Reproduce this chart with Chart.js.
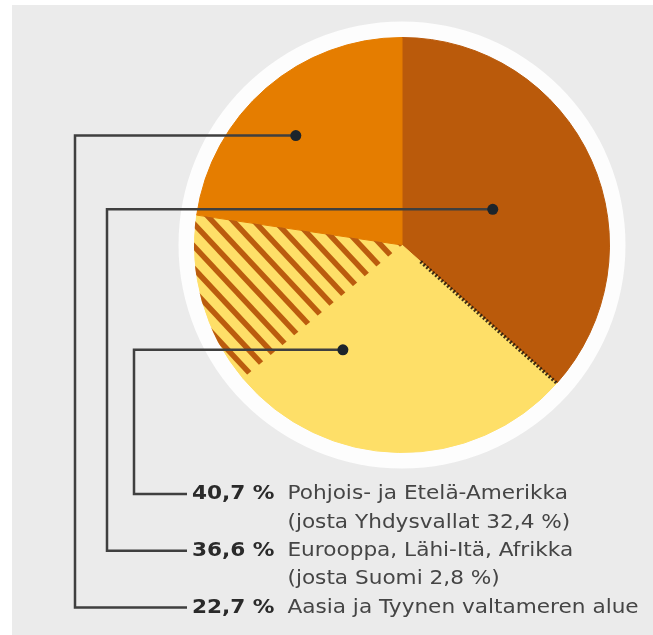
<!DOCTYPE html>
<html lang="fi">
<head>
<meta charset="utf-8">
<title>Liikevaihto alueittain</title>
<script src="https://cdn.jsdelivr.net/npm/chart.js@4/dist/chart.umd.min.js"></script>
<style>
  html, body { margin: 0; padding: 0; background: #fff; }
  #tausta { position: absolute; left: 12px; top: 5px; width: 641px; height: 630px; background: #ebebeb; }
  #kaavio { position: absolute; left: 0; top: 0; }
</style>
</head>
<body>
<div id="tausta"></div>
<canvas id="kaavio" width="653" height="635"></canvas>
<script>
// Alueet ja osuudet (%)
const alueet = ['Pohjois- ja Etelä-Amerikka', 'Eurooppa, Lähi-Itä, Afrikka', 'Aasia ja Tyynen valtameren alue'];
const osuudet = [40.7, 36.6, 22.7];
const lisatiedot = ['(josta Yhdysvallat 32,4 %)', '(josta Suomi 2,8 %)', ''];

// Piirakan sektorit myötäpäivään klo 12:sta alkaen
const sektoriNimet = ['Eurooppa, Lähi-Itä, Afrikka', 'Pohjois- ja Etelä-Amerikka', 'Pohjois- ja Etelä-Amerikka (viivoitettu)', 'Aasia ja Tyynen valtameren alue'];
const sektoriArvot = [36.6, 27.3, 13.4, 22.7];
const sektoriAlue = [1, 0, 0, 2];   // mihin alueeseen sektori kuuluu
const viivoitettu = 2;              // viivoitettu sektori
const suomiRaja = 0;                // Suomi merkitty tämän sektorin reunaan

// Ulkoasu
const sektoriVarit = ['#ba5a0b', '#fedf68', '#fedf68', '#e57d00'];
const viivaVari = '#bb5c0e';
const osoittimet = [
    { kulma: 0.53, sade: 0.58, taiteX: 134 },  // Amerikka
    { kulma: 0.52, sade: 0.47, taiteX: 107 },  // Eurooppa
    { kulma: 0.46, sade: 0.735, taiteX: 75 }   // Aasia
];
const rivit = { x: 192, y0: 494, vali: 28.4, loppuX: 187, leveys: 446, rako: 5 };

const rengas = {
    id: 'rengas',
    beforeDatasetsDraw(chart) {
        const arc = chart.getDatasetMeta(0).data[0];
        const ctx = chart.ctx;
        ctx.save();
        ctx.fillStyle = '#fdfdfd';
        ctx.beginPath();
        ctx.arc(arc.x, arc.y, arc.outerRadius + 16, 0, Math.PI * 2);
        ctx.fill();
        ctx.restore();
    }
};

const viivoitus = {
    id: 'viivoitus',
    afterDatasetsDraw(chart) {
        const ctx = chart.ctx;
        const arcs = chart.getDatasetMeta(0).data;
        const a = arcs[viivoitettu];

        // vinoviivat
        ctx.save();
        ctx.beginPath();
        ctx.moveTo(a.x, a.y);
        ctx.arc(a.x, a.y, a.outerRadius + 0.5, a.startAngle, a.endAngle);
        ctx.closePath();
        ctx.clip();
        ctx.strokeStyle = viivaVari;
        ctx.lineWidth = 5.5;
        const t = 47 * Math.PI / 180;
        const dx = Math.cos(t), dy = Math.sin(t);
        const nx = -dy, ny = dx;
        const R = a.outerRadius * 1.5;
        for (let k = -30; k <= 30; k++) {
            const px = a.x + nx * k * 15.3, py = a.y + ny * k * 15.3;
            ctx.beginPath();
            ctx.moveTo(px - dx * R, py - dy * R);
            ctx.lineTo(px + dx * R, py + dy * R);
            ctx.stroke();
        }
        ctx.restore();

        // Suomen pisteviiva
        const b = arcs[suomiRaja];
        const k = b.endAngle;
        ctx.save();
        ctx.setLineDash([2, 2]);
        ctx.lineWidth = 3.5;
        ctx.strokeStyle = 'rgba(40,28,15,0.9)';
        ctx.beginPath();
        ctx.moveTo(b.x + Math.cos(k) * b.outerRadius * 0.12, b.y + Math.sin(k) * b.outerRadius * 0.12);
        ctx.lineTo(b.x + Math.cos(k) * b.outerRadius, b.y + Math.sin(k) * b.outerRadius);
        ctx.stroke();
        ctx.restore();
    }
};

const selitteet = {
    id: 'selitteet',
    afterDraw(chart) {
        const ctx = chart.ctx;
        const arcs = chart.getDatasetMeta(0).data;
        const lihava = 'bold 20px "DejaVu Sans"';
        const normaali = '20px "DejaVu Sans"';

        // vaakaskaala niin, että pisin rivi osuu oikeaan leveyteen
        let pisin = 0;
        alueet.forEach(function(nimi, i) {
            ctx.font = lihava;
            const w1 = ctx.measureText(osuudet[i].toFixed(1).replace('.', ',') + ' %').width;
            ctx.font = normaali;
            const w2 = ctx.measureText(' ' + nimi).width;
            pisin = Math.max(pisin, w1 + w2 + rivit.rako);
        });
        const sx = rivit.leveys / pisin;

        let rivi = 0;
        alueet.forEach(function(nimi, i) {
            const y = rivit.y0 + rivi * rivit.vali;

            // osoitinviiva sektorista tekstiin
            const osat = arcs.filter(function(_, j) { return sektoriAlue[j] === i; });
            const alku = osat[0].startAngle;
            const loppu = osat[osat.length - 1].endAngle;
            const o = osoittimet[i];
            const kulma = alku + o.kulma * (loppu - alku);
            const r = osat[0].outerRadius * o.sade;
            const px = osat[0].x + Math.cos(kulma) * r;
            const py = osat[0].y + Math.sin(kulma) * r;

            ctx.save();
            ctx.strokeStyle = '#3f3f3f';
            ctx.lineWidth = 2.5;
            ctx.lineJoin = 'miter';
            ctx.beginPath();
            ctx.moveTo(px, py);
            ctx.lineTo(o.taiteX, py);
            ctx.lineTo(o.taiteX, y);
            ctx.lineTo(rivit.loppuX, y);
            ctx.stroke();
            ctx.fillStyle = '#1c242b';
            ctx.beginPath();
            ctx.arc(px, py, 5.5, 0, Math.PI * 2);
            ctx.fill();
            ctx.restore();

            // teksti
            ctx.save();
            ctx.translate(rivit.x, 0);
            ctx.scale(sx, 1);
            ctx.textBaseline = 'middle';
            const pros = osuudet[i].toFixed(1).replace('.', ',') + ' %';
            ctx.font = lihava;
            ctx.fillStyle = '#2a2a2a';
            ctx.fillText(pros, 0, y);
            const w = ctx.measureText(pros + ' ').width + rivit.rako;
            ctx.font = normaali;
            ctx.fillStyle = '#454545';
            ctx.fillText(nimi, w, y);
            if (lisatiedot[i]) {
                ctx.fillText(lisatiedot[i], w, y + rivit.vali);
            }
            ctx.restore();

            rivi += lisatiedot[i] ? 2 : 1;
        });
    }
};

document.addEventListener('DOMContentLoaded', function() {
    const ctx = document.getElementById('kaavio').getContext('2d');
    new Chart(ctx, {
        type: 'pie',
        data: {
            labels: sektoriNimet,
            datasets: [{
                data: sektoriArvot,
                backgroundColor: sektoriVarit,
                borderColor: sektoriVarit,
                borderWidth: 1,
                hoverOffset: 0,
                offset: 0
            }]
        },
        options: {
            responsive: false,
            animation: false,
            events: [],
            layout: { padding: { left: 194, right: 43, top: 37, bottom: 182 } },
            plugins: {
                legend: { display: false },
                tooltip: { enabled: false }
            }
        },
        plugins: [rengas, viivoitus, selitteet]
    });
});
</script>
</body>
</html>
